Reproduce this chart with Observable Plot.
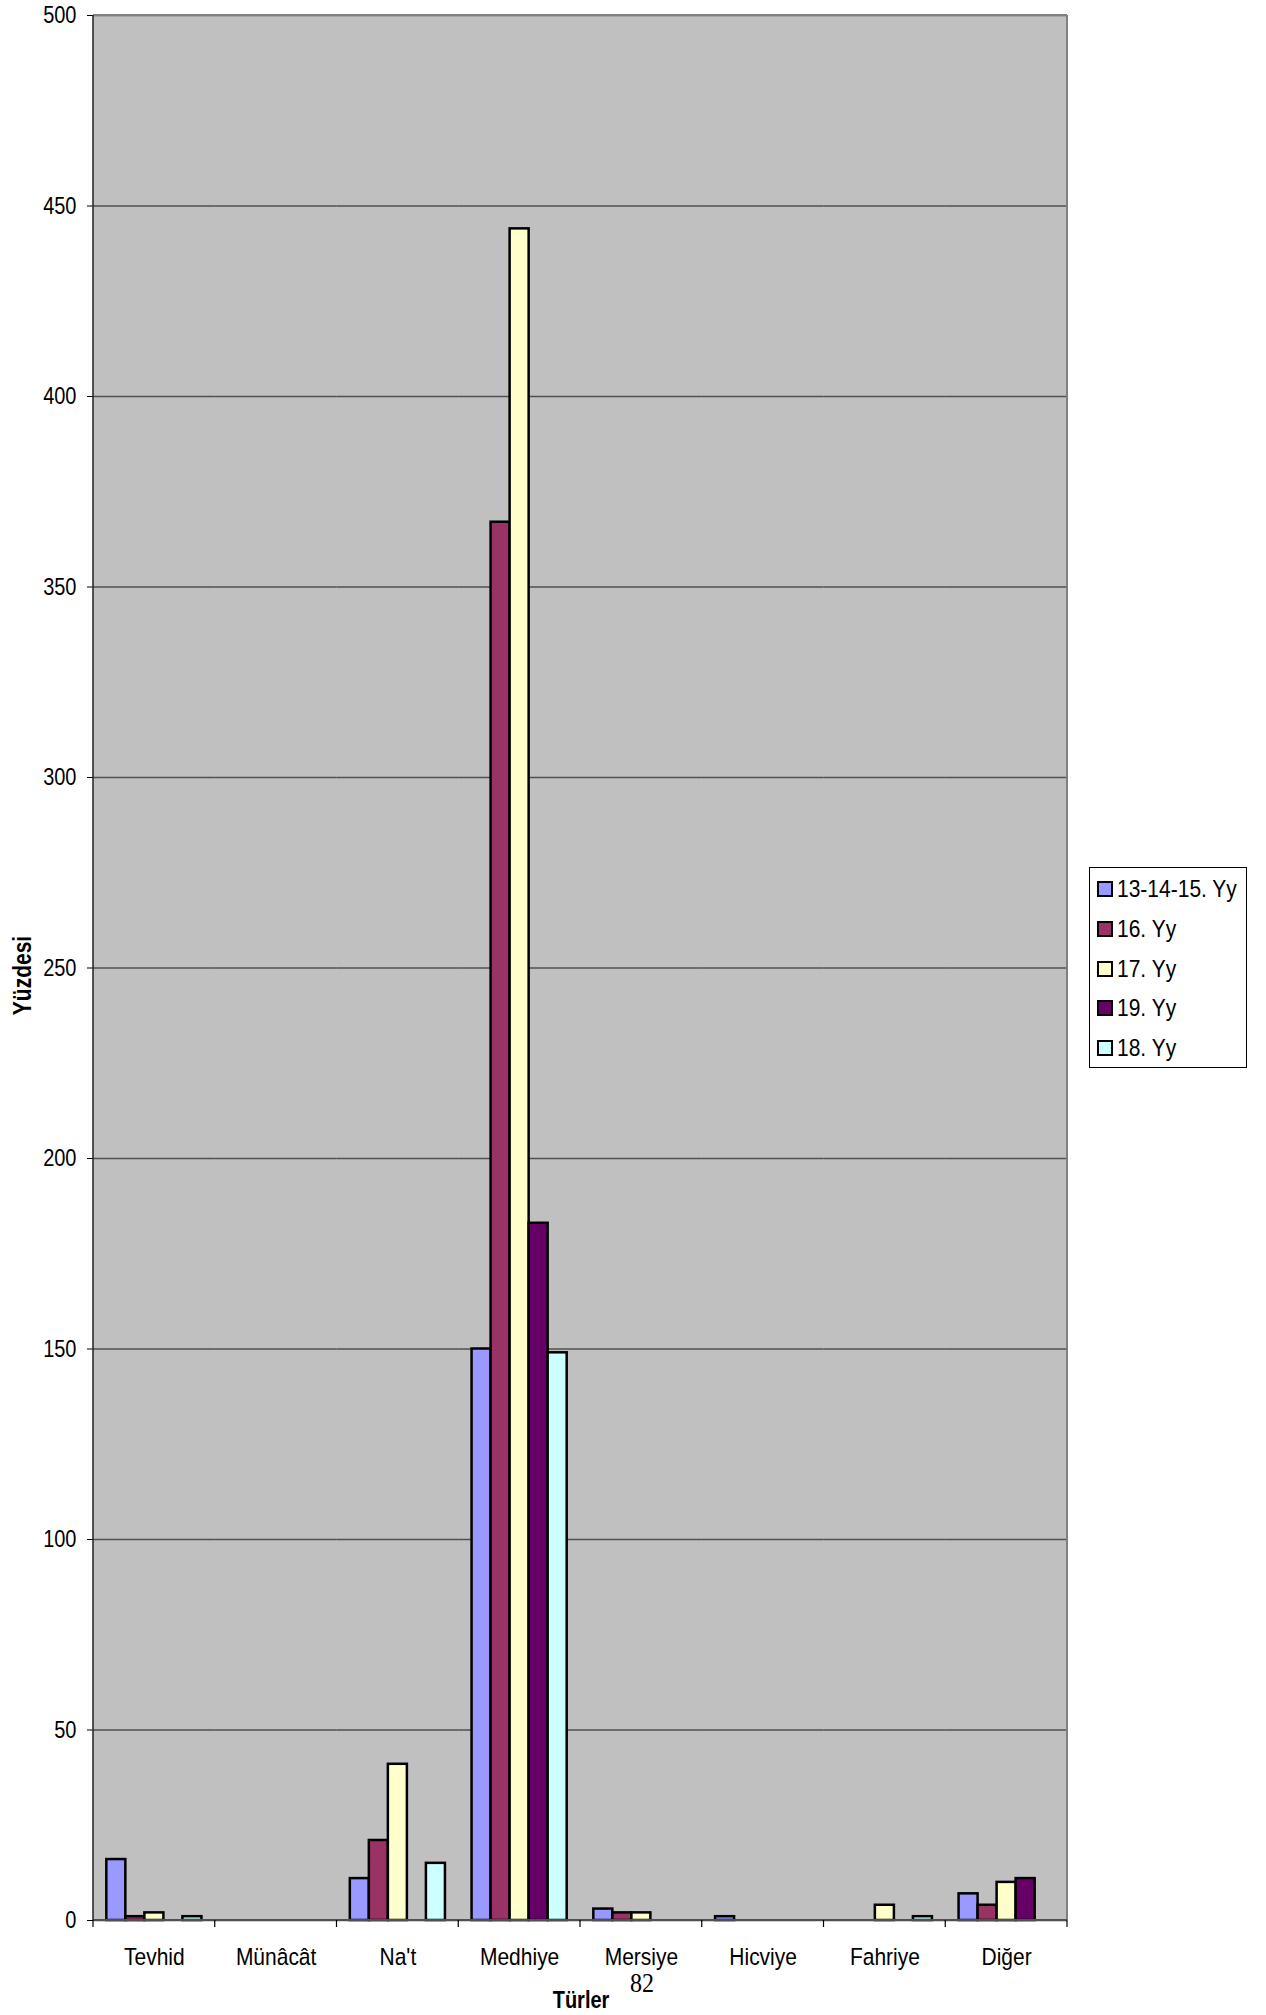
<!DOCTYPE html>
<html>
<head>
<meta charset="utf-8">
<script src="https://cdn.jsdelivr.net/npm/d3@7"></script>
<script src="https://cdn.jsdelivr.net/npm/@observablehq/plot@0.6"></script>
<style>
  body { margin: 0; background: #fff; }
  #wrap { position: relative; width: 1266px; height: 2015px; font-family: "Liberation Sans", Arial, sans-serif; }
  #legend { position: absolute; left: 1089px; top: 867px; width: 158px; height: 201px; border: 1px solid #000; background: #fff; box-sizing: border-box; }
  .item { position: absolute; left: 7px; height: 24px; display: flex; align-items: center; font-size: 21px; color: #000; white-space: nowrap; }
  .item span { display: inline-block; transform: scaleY(1.1); }
  .sw { width: 12px; height: 12px; border: 2px solid #000; margin-right: 4px; }
</style>
</head>
<body>
<div id="wrap"></div>
<script>
const categories = ["Tevhid", "Münâcât", "Na't", "Medhiye", "Mersiye", "Hicviye", "Fahriye", "Diğer"];
const seriesNames = ["13-14-15. Yy", "16. Yy", "17. Yy", "19. Yy", "18. Yy"];
const seriesColors = ["#9999FF", "#993366", "#FFFFCC", "#660066", "#CCFFFF"];
const v13_14_15 = [16, 0, 11, 150, 3, 1, 0, 7];
const v16 = [1, 0, 21, 367, 2, 0, 0, 4];
const v17 = [2, 0, 41, 444, 2, 0, 4, 10];
const v19 = [0, 0, 0, 183, 0, 0, 0, 11];
const v18 = [1, 0, 15, 149, 0, 0, 1, 0];
const yTicks = [0, 50, 100, 150, 200, 250, 300, 350, 400, 450, 500];
const yLabel = "Yüzdesi";
const xLabel = "Türler";
const pageNumber = "82";

(function () {
const seriesValues = [v13_14_15, v16, v17, v19, v18];
const data = [];
categories.forEach((c, i) => {
  seriesNames.forEach((s, j) => {
    data.push({category: c, series: s, value: seriesValues[j][i]});
  });
});

const chart = Plot.plot({
  width: 1266,
  height: 2015,
  marginTop: 15,
  marginBottom: 95,
  marginLeft: 93,
  marginRight: 199,
  style: {fontFamily: "Liberation Sans, Arial, sans-serif", fontSize: "21px", color: "#000", background: "transparent", overflow: "visible"},
  fx: {domain: categories, padding: 0, round: false, label: null, axis: null},
  x: {domain: seriesNames, paddingInner: 0, paddingOuter: 0.7, round: false, axis: null},
  y: {domain: [0, 500], label: null, axis: null},
  color: {domain: seriesNames, range: seriesColors},
  opacity: {domain: [0, 1], range: [0, 1]},
  marks: [
    Plot.gridY(yTicks, {stroke: "#505050", strokeOpacity: 1, strokeWidth: 1.3}),
    Plot.barY(data, {fx: "category", x: "series", y: "value", fill: "series", stroke: "#000", strokeWidth: 2.5,
      strokeOpacity: d => (d.value > 0 ? 1 : 0), fillOpacity: d => (d.value > 0 ? 1 : 0)}),
    Plot.axisY(yTicks, {anchor: "left", tickSize: 6, tickPadding: 11, label: null, fontSize: 20, tickFormat: d => String(d)}),
    Plot.axisFx({anchor: "bottom", tickSize: 0, tickPadding: 27, label: null, fontSize: 21})
  ]
});

const svg = d3.select(chart);

// stretch all chart texts vertically, as in the reference
svg.selectAll("text").each(function () {
  const el = d3.select(this);
  const t = el.attr("transform");
  if (t) {
    el.attr("transform", t + " scale(1,1.18)");
  } else {
    const x = +el.attr("x") || 0, y = +el.attr("y") || 0;
    el.attr("x", null).attr("y", null).attr("transform", `translate(${x},${y}) scale(1,1.18)`);
  }
});

const fxS = chart.scale("fx");
const yS = chart.scale("y");
const bw = fxS.bandwidth;
const x0 = fxS.apply(categories[0]);
const x1 = fxS.apply(categories[categories.length - 1]) + bw;
const yTop = yS.apply(500);
const yBot = yS.apply(0);

svg.insert("rect", "g")
  .attr("x", x0).attr("y", yTop)
  .attr("width", x1 - x0).attr("height", yBot - yTop)
  .attr("fill", "#C0C0C0");

const borders = svg.append("g");
borders.append("line").attr("x1", x0).attr("x2", x1).attr("y1", yTop).attr("y2", yTop).attr("stroke", "#808080").attr("stroke-width", 2);
borders.append("line").attr("x1", x1).attr("x2", x1).attr("y1", yTop).attr("y2", yBot).attr("stroke", "#808080").attr("stroke-width", 2);
borders.append("line").attr("x1", x0).attr("x2", x1).attr("y1", yBot).attr("y2", yBot).attr("stroke", "#505050").attr("stroke-width", 2);
borders.append("line").attr("x1", x0).attr("x2", x0).attr("y1", yTop).attr("y2", yBot).attr("stroke", "#222").attr("stroke-width", 1.5);
const bounds = categories.map(c => fxS.apply(c)).concat([x1]);
bounds.forEach(b => {
  borders.append("line").attr("x1", b).attr("x2", b).attr("y1", yBot).attr("y2", yBot + 7).attr("stroke", "#000").attr("stroke-width", 1.2);
});

svg.append("text")
  .attr("transform", `translate(31,${(yTop + yBot) / 2 + 8}) rotate(-90) scale(1,1.2)`)
  .attr("text-anchor", "middle")
  .attr("font-weight", "bold").attr("font-size", 21)
  .text(yLabel);
svg.append("text")
  .attr("transform", `translate(${(x0 + x1) / 2 + 1},${yBot + 88}) scale(1,1.15)`)
  .attr("text-anchor", "middle")
  .attr("font-weight", "bold").attr("font-size", 20)
  .text(xLabel);
svg.append("text")
  .attr("transform", `translate(${(x0 + x1) / 2 + 62},${yBot + 72}) scale(1,1.15)`)
  .attr("text-anchor", "middle")
  .attr("font-family", "Liberation Serif, Times New Roman, serif").attr("font-size", 24)
  .text(pageNumber);

const wrap = document.getElementById("wrap");
wrap.appendChild(chart);
chart.style.position = "absolute";
chart.style.left = "0";
chart.style.top = "0";

const legend = document.createElement("div");
legend.id = "legend";
seriesNames.forEach((s, i) => {
  const item = document.createElement("div");
  item.className = "item";
  item.style.top = (9 + i * 39.8) + "px";
  const sw = document.createElement("div");
  sw.className = "sw";
  sw.style.background = seriesColors[i];
  const t = document.createElement("span");
  t.textContent = s;
  item.appendChild(sw);
  item.appendChild(t);
  legend.appendChild(item);
});
wrap.appendChild(legend);
})();
</script>
</body>
</html>
